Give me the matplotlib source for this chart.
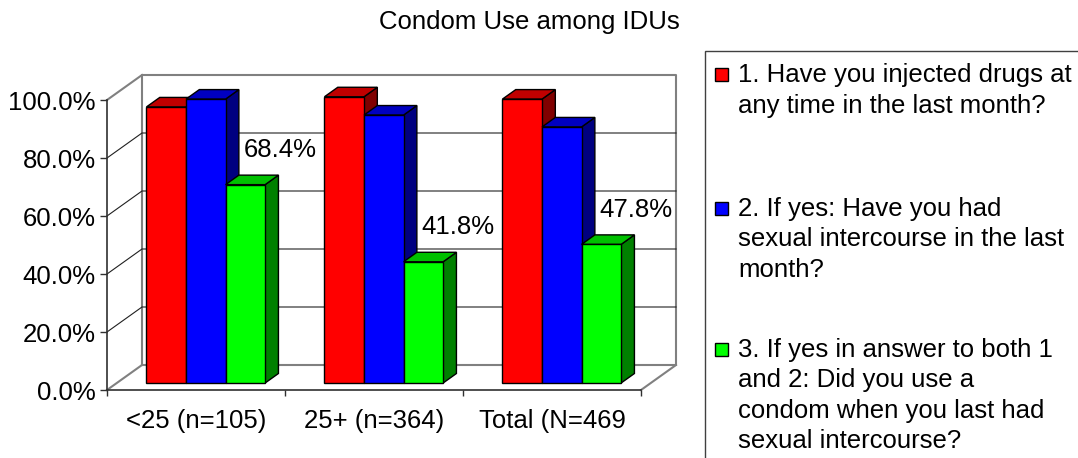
import matplotlib.pyplot as plt
from matplotlib.patches import Polygon, Rectangle

plt.rcParams['font.family'] = ['Liberation Sans', 'DejaVu Sans']

categories = ["<25 (n=105)", "25+ (n=364)", "Total (N=469"]
injected = [95.2, 98.7, 97.9]
had_sex = [97.9, 92.4, 88.3]
used_condom = [68.4, 41.8, 47.8]
series_labels = [
    "1. Have you injected drugs at\nany time in the last month?",
    "2. If yes: Have you had\nsexual intercourse in the last\nmonth?",
    "3. If yes in answer to both 1\nand 2: Did you use a\ncondom when you last had\nsexual intercourse?",
]
yticks = [0, 20, 40, 60, 80, 100]

front_col = ["#FF0000", "#0000FF", "#00FF00"]
top_col = ["#C00000", "#0000C0", "#00C000"]
side_col = ["#800000", "#000080", "#008000"]

FS = 18.5
W, H = 1078, 458
fig = plt.figure(figsize=(W / 100, H / 100), dpi=100)

# axes = front plane of the floor
ax = fig.add_axes([107 / W, 1 - 390 / H, 534 / W, 290 / H])
ax.set_xlim(-0.5, 2.5)
ax.set_ylim(0, 100)
ax.patch.set_visible(False)

# depth of the 3d box in data units
dx = 35 / 534 * 3
dy = 25 / 290 * 100
f0, f1 = 0.28, 0.66

gray = "#808080"
# back wall, floor and side wall edges
ax.plot([-0.5 + dx, 2.5 + dx, 2.5 + dx, -0.5 + dx, -0.5 + dx],
        [dy, dy, 100 + dy, 100 + dy, dy], color=gray, lw=1.5, clip_on=False, zorder=1)
for x in (-0.5, 2.5):
    ax.plot([x, x + dx], [0, dy], color=gray, lw=1.5, clip_on=False, zorder=1)
ax.plot([-0.5, -0.5 + dx], [100, 100 + dy], color=gray, lw=1.5, clip_on=False, zorder=1)
for v in yticks[1:-1]:
    ax.plot([-0.5, -0.5 + dx, 2.5 + dx], [v, v + dy, v + dy], color="#202020",
            lw=0.8, clip_on=False, zorder=1)

# bars
values = [injected, had_sex, used_condom]
w = 1 / 4.5
ex, ey = (f1 - f0) * dx, (f1 - f0) * dy
for i in range(len(categories)):
    for j, vals in enumerate(values):
        v = vals[i]
        x0 = i - 1.5 * w + j * w + f0 * dx
        y0 = f0 * dy
        z = 3 + i * 3 + j
        kw = dict(ec="black", lw=1.0, zorder=z, clip_on=False, joinstyle="miter")
        ax.add_patch(Polygon([(x0 + w, y0), (x0 + w + ex, y0 + ey),
                              (x0 + w + ex, y0 + v + ey), (x0 + w, y0 + v)],
                             fc=side_col[j], **kw))
        ax.add_patch(Polygon([(x0, y0 + v), (x0 + w, y0 + v),
                              (x0 + w + ex, y0 + v + ey), (x0 + ex, y0 + v + ey)],
                             fc=top_col[j], **kw))
        ax.add_patch(Rectangle((x0, y0), w, v, fc=front_col[j], **kw))
        if j == 2:
            ax.annotate(f"{v:.1f}%", xy=(x0 + w / 2, y0 + v), xytext=(25, 25),
                        textcoords="offset points", ha="center", va="center",
                        fontsize=FS, zorder=20)

# axes
for s in ("top", "right"):
    ax.spines[s].set_visible(False)
for s in ("left", "bottom"):
    ax.spines[s].set_color("#303030")
    ax.spines[s].set_linewidth(1.2)
ax.set_yticks(yticks)
ax.set_yticklabels([f"{v:.1f}%" for v in yticks])
ax.tick_params(axis="y", length=5, width=1, pad=3, labelsize=FS, color="#303030")
ax.set_xticks([-0.5, 0.5, 1.5, 2.5])
ax.set_xticklabels([])
ax.tick_params(axis="x", which="major", length=4, width=1, color="#303030")
ax.set_xticks(range(len(categories)), minor=True)
ax.set_xticklabels(categories, minor=True)
ax.tick_params(axis="x", which="minor", length=0, pad=14, labelsize=FS)

fig.text(529 / W, 1 - 22 / H, "Condom Use among IDUs", ha="center", va="center", fontsize=FS)

# legend
fig.patches.append(Rectangle((705 / W, -0.1), 0.5, 1.1 - 51 / H, transform=fig.transFigure,
                             fill=False, ec="#404040", lw=1))
item_top = [74, 208, 349]
for k, label in enumerate(series_labels):
    yc = item_top[k]
    fig.patches.append(Rectangle((715 / W, 1 - (yc + 7) / H), 13 / W, 13 / H,
                                 transform=fig.transFigure, fc=front_col[k], ec="black", lw=1))
    for n, line in enumerate(label.split("\n")):
        fig.text(738 / W, 1 - (yc + 8 + n * 30.5) / H, line, ha="left", va="baseline", fontsize=FS)

fig.savefig("out.png", dpi=100)
